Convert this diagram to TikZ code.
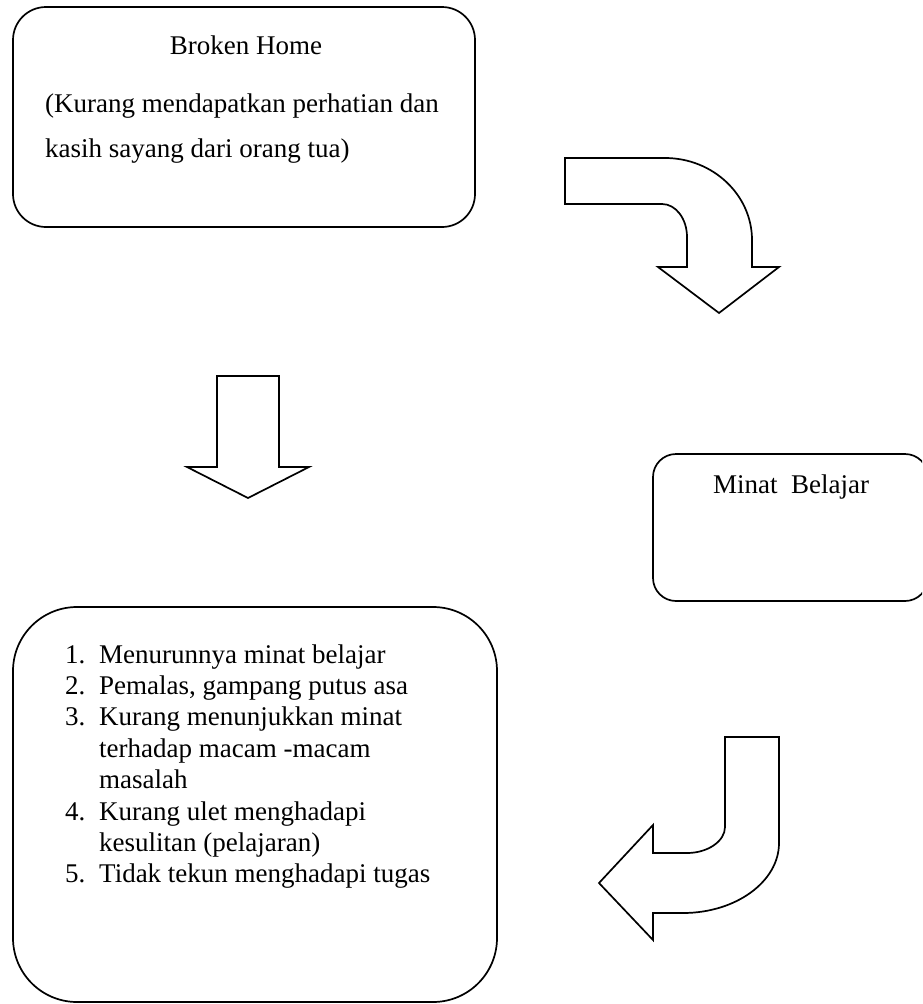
\documentclass[tikz,border=0pt]{standalone}
\usepackage{fontspec}
\setmainfont{Liberation Serif}
\begin{document}
\begin{tikzpicture}[x=1pt,y=-1pt,
  outline/.style={draw=black,line width=1.7pt,line join=miter},
  boxstyle/.style={outline,rounded corners=#1},
  txt/.style={inner sep=0pt,font=\fontsize{27}{31.4}\selectfont},
  lt/.style={txt,anchor=base west}]
\useasboundingbox (0,0) rectangle (922,1004);
\clip (0,0) rectangle (922,1004);
% boxes
\draw[boxstyle=33pt] (13,7) rectangle (475,227);
\draw[boxstyle=23pt] (653,454) rectangle (928,601);
\draw[boxstyle=64pt] (13,607) rectangle (497,1002);
% top box text
\node[txt,anchor=base] (t1) at (246,54) {Broken Home};
\node[lt] (t2) at (45,112) {(Kurang mendapatkan perhatian dan};
\node[lt] (t3) at (45,157) {kasih sayang dari orang tua)};
% minat
\node[txt,anchor=base] (mb) at (791,493) {Minat\ \ Belajar};
% list
\node[lt] (n1) at (65,663) {1.};
\node[lt] (n2) at (65,694.4) {2.};
\node[lt] (n3) at (65,725.8) {3.};
\node[lt] (n4) at (65,820) {4.};
\node[lt] (n5) at (65,882.8) {5.};
\node[lt] (l1) at (99,663) {Menurunnya minat belajar};
\node[lt] (l2) at (99,694.4) {Pemalas, gampang putus asa};
\node[lt] (l3) at (99,725.8) {Kurang menunjukkan minat};
\node[lt] (l4) at (99,757.2) {terhadap macam -macam};
\node[lt] (l5) at (99,788.6) {masalah};
\node[lt] (l6) at (99,820) {Kurang ulet menghadapi};
\node[lt] (l7) at (99,851.4) {kesulitan (pelajaran)};
\node[lt] (l8) at (99,882.8) {Tidak tekun menghadapi tugas};
% top-right bent arrow
\draw[outline] (565,158) -- (665,158) .. controls (713,158) and (752,195) .. (752,240)
  -- (752,267) -- (779,267) -- (719,313) -- (658,267) -- (687,267) -- (687,237)
  .. controls (687,219) and (676,204) .. (662,204) -- (565,204) -- cycle;
% left down arrow
\draw[outline] (217,376) -- (279,376) -- (279,467) -- (309,467) -- (248,498)
  -- (187,467) -- (217,467) -- cycle;
% bottom-right bent arrow
\draw[outline] (725,737) -- (779,737) -- (779,843) .. controls (779,881.5) and (736,913) .. (683,913)
  -- (653,913) -- (653,940) -- (599,883) -- (653,825) -- (653,853) -- (687,853)
  .. controls (708,853) and (725,841) .. (725,827) -- cycle;
\end{tikzpicture}
\end{document}
